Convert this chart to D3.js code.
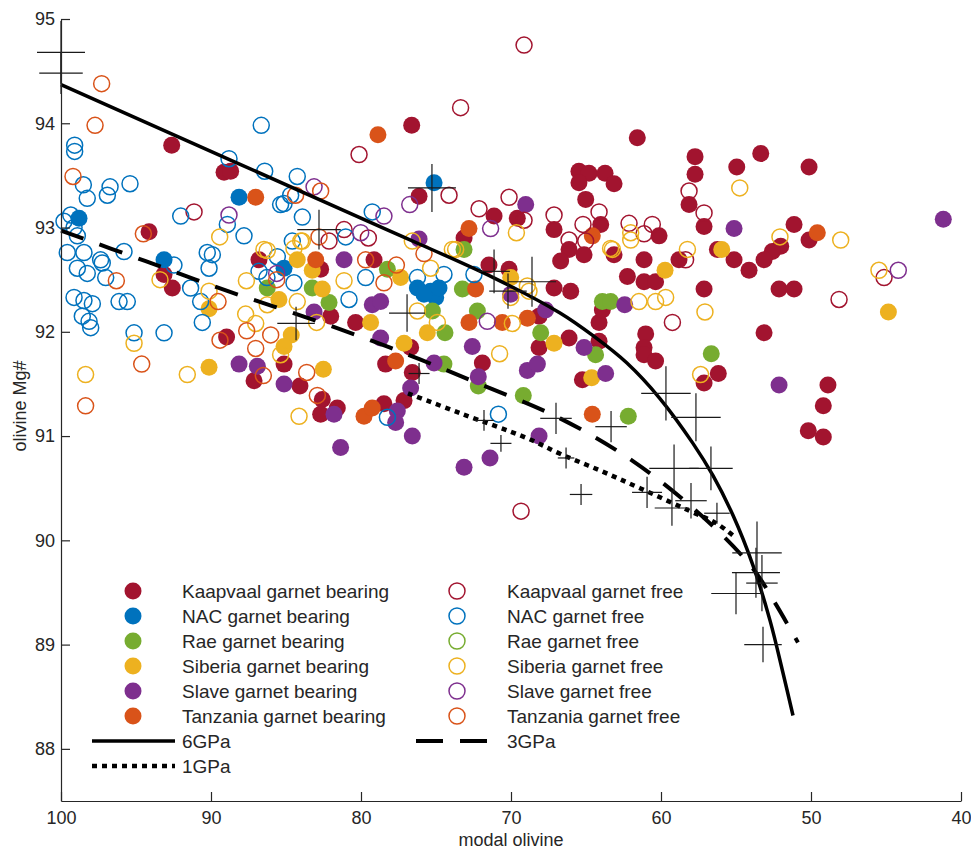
<!DOCTYPE html>
<html>
<head>
<meta charset="utf-8">
<script src="https://cdn.jsdelivr.net/npm/d3@7/dist/d3.min.js"></script>
<style>
body { margin: 0; background: #fff; }
text { font-family: "Liberation Sans", Arial, Helvetica, sans-serif; fill: #262626; }
</style>
</head>
<body>
<div id="chart"></div>
<script>
// axis ticks
var xTicks = [100, 90, 80, 70, 60, 50, 40];
var yTicks = [88, 89, 90, 91, 92, 93, 94, 95];

// legend text
var bearingLabels = ["Kaapvaal garnet bearing", "NAC garnet bearing", "Rae garnet bearing",
    "Siberia garnet bearing", "Slave garnet bearing", "Tanzania garnet bearing"];
var freeLabels = ["Kaapvaal garnet free", "NAC garnet free", "Rae garnet free",
    "Siberia garnet free", "Slave garnet free", "Tanzania garnet free"];
var lineLabels = ["6GPa", "1GPa", "3GPa"];

// samples: [modal olivine, olivine Mg#]
var kaapvaalBearing = [[92.62,93.79],[89.13,93.53],[88.69,93.54],[94.13,92.96],[86.8,92.69],[82.69,92.6],[93.13,92.55],[92.58,92.42],
    [88.96,91.95],[87.13,91.53],[85.13,91.69],[84.07,91.48],[82.58,91.35],[82.69,91.21],[81.58,91.27],[82.02,92.15],[80.36,92.09],
    [76.62,93.98],[61.58,93.86],[76.13,93.3],[65.47,93.54],[64.8,93.52],[63.73,93.52],[63.13,93.42],[65.47,93.43],[65.02,93.27],
    [71.13,93.11],[69.58,93.09],[67.13,92.98],[73.13,92.9],[64.02,93.03],[66.13,92.79],[66.69,92.68],[65.13,92.74],[63.13,92.74],
    [60.13,92.92],[61.13,92.69],[62.24,92.53],[61.13,92.48],[60.36,92.48],[58.8,92.69],[67.13,92.42],[66.02,92.39],[71.47,92.64],
    [70.13,92.6],[79.13,92.69],[57.73,93.68],[57.73,93.51],[54.95,93.58],[53.35,93.71],[50.13,93.58],[58.13,93.22],[57.13,93.01],
    [51.13,93.03],[50.13,92.88],[52.02,92.82],[52.58,92.77],[53.13,92.69],[55.13,92.69],[54.13,92.59],[56.24,92.79],[57.13,92.41],
    [52.13,92.41],[51.13,92.41],[76.69,91.85],[78.36,91.69],[76.58,91.61],[77.13,91.34],[78.47,91.31],[71.91,91.7],[68.13,92.15],
    [68.13,91.85],[66.13,91.94],[64.13,91.91],[64.13,92.09],[63.91,92.21],[61.02,91.98],[61.13,91.85],[61.13,91.78],[60.36,91.72],
    [65.24,91.54],[53.13,91.99],[56.18,91.6],[57.13,91.51],[48.87,91.49],[49.18,91.29],[50.18,91.05],[49.18,90.99]];
var nacBearing = [[88.13,93.29],[98.8,93.09],[93.13,92.69],[85.13,92.61],[75.13,93.43],[76.24,92.42],[75.36,92.39],[75.02,92.33],
    [75.8,92.36],[74.8,92.42]];
var raeBearing = [[86.25,92.42],[83.25,92.42],[82.13,92.28],[73.13,92.79],[78.24,92.6],[73.24,92.41],[75.24,92.2],[74.4,91.99],
    [74.47,91.69],[72.18,91.48],[69.18,91.39],[72.24,92.2],[68.02,91.99],[64.36,91.78],[63.91,92.29],[63.36,92.29],[62.18,91.19],
    [56.65,91.79]];
var siberiaBearing = [[84.25,92.69],[83.25,92.59],[82.58,92.41],[90.13,91.66],[90.13,92.22],[85.47,92.31],[84.65,91.97],[85.13,91.86],
    [82.51,91.64],[79.36,92.09],[77.36,92.52],[70.02,92.52],[59.73,92.59],[55.95,92.79],[75.58,91.99],[77.13,91.89],[67.13,91.89],
    [64.62,91.56],[44.84,92.19]];
var slaveBearing = [[81.13,92.69],[88.13,91.69],[86.91,91.67],[85.13,91.5],[81.8,91.21],[81.36,90.89],[83.13,92.19],[79.25,92.26],
    [69.02,93.22],[76.13,92.89],[55.13,92.99],[41.18,93.08],[78.69,92.29],[78.69,91.94],[75.13,91.7],[76.69,91.46],[77.58,91.24],
    [77.69,91.13],[76.58,91.0],[68.13,91.0],[72.58,91.86],[72.18,91.57],[68.91,91.63],[68.24,91.69],[70.02,92.36],[67.69,92.21],
    [65.13,91.85],[62.42,92.26],[63.69,91.6],[52.13,91.49],[73.13,90.7],[71.4,90.79]];
var tanzaniaBearing = [[78.87,93.89],[87.02,93.29],[83.02,92.69],[79.8,91.19],[79.25,91.27],[72.8,92.99],[64.58,92.92],[72.36,92.41],
    [49.58,92.95],[77.69,91.72],[72.8,92.09],[70.58,92.09],[68.91,92.13],[64.58,91.21]];

var kaapvaalFree = [[80.13,93.7],[91.13,93.15],[82.13,92.87],[81.13,92.98],[69.13,94.75],[73.36,94.15],[74.13,93.31],[70.13,93.29],
    [64.13,93.15],[72.13,93.18],[69.13,93.07],[67.13,93.12],[66.13,92.88],[79.51,92.9],[65.2,93.03],[65.02,92.87],[62.13,93.04],
    [61.13,92.94],[60.58,93.03],[58.13,93.35],[57.13,93.14],[58.36,92.69],[45.13,92.52],[59.24,92.09],[48.13,92.31],[69.33,90.28]];
var nacFree = [[99.09,93.79],[99.09,93.73],[98.51,93.41],[98.25,93.28],[96.73,93.39],[96.91,93.31],[95.4,93.42],[86.65,93.98],
    [88.8,93.66],[86.42,93.54],[84.25,93.49],[84.69,93.31],[85.13,93.23],[85.36,93.22],[83.91,93.1],[79.25,93.15],[92.02,93.11],
    [88.91,93.03],[87.8,92.92],[99.35,93.12],[99.8,93.06],[99.13,93.0],[98.91,92.92],[84.58,92.87],[81.02,92.91],[79.69,92.52],
    [99.58,92.76],[98.47,92.76],[98.91,92.61],[98.25,92.56],[97.36,92.69],[97.25,92.66],[95.8,92.77],[92.47,92.64],[90.25,92.76],
    [89.91,92.74],[90.13,92.61],[85.58,92.72],[86.8,92.58],[84.47,92.47],[91.36,92.42],[86.27,92.52],[97.02,92.52],[99.13,92.33],
    [98.47,92.3],[97.91,92.27],[96.13,92.29],[95.58,92.29],[98.58,92.15],[98.13,92.1],[98.02,92.04],[95.13,91.99],[93.13,91.99],
    [90.69,92.29],[90.58,92.09],[80.8,92.31],[74.47,92.55],[76.24,92.52],[72.47,92.55],[78.24,91.18],[70.84,91.21]];
var raeFree = [];
var siberiaFree = [[89.42,92.91],[84.02,92.87],[93.4,92.5],[87.64,92.49],[86.47,92.79],[86.25,92.78],[84.47,92.8],[83.91,92.87],
    [81.13,92.49],[95.13,91.89],[98.36,91.59],[91.58,91.59],[90.13,92.39],[87.69,92.17],[87.02,92.08],[86.25,92.26],[84.25,92.29],
    [85.36,91.78],[84.13,91.19],[82.96,92.09],[69.64,92.95],[76.58,92.87],[73.91,92.79],[73.69,92.79],[63.36,92.8],[63.24,92.79],
    [62.02,92.95],[62.02,92.88],[75.36,92.61],[68.91,92.44],[54.75,93.38],[52.07,92.91],[48.02,92.88],[58.24,92.79],[45.47,92.59],
    [76.24,92.2],[74.91,92.09],[70.76,91.79],[69.91,92.08],[70.02,92.33],[68.8,92.39],[61.47,92.29],[60.36,92.29],[59.69,92.33],
    [57.07,92.19],[57.36,91.59]];
var slaveFree = [[83.13,93.39],[88.8,93.12],[85.62,92.56],[76.75,93.22],[71.36,92.99],[78.47,93.11],[71.58,92.1],[44.18,92.59],
    [80.02,92.95]];
var tanzaniaFree = [[97.29,94.38],[97.73,93.98],[99.2,93.49],[94.51,92.94],[84.36,93.31],[82.69,93.35],[82.8,92.91],[79.69,92.69],
    [96.31,92.49],[85.62,92.5],[94.62,91.69],[98.36,91.29],[89.53,92.29],[89.4,91.92],[87.62,92.01],[86.02,91.97],[87.02,91.84],
    [86.51,91.58],[83.62,91.61],[82.91,91.39],[75.8,92.75],[77.64,92.64],[78.47,92.47]];

// model curves
var sixGpaX = [100, 79.07, 71.18, 66.73, 64.51, 62.27, 60.07, 57.87, 56.53, 55.2, 53.87, 52.73, 51.87, 51.2];
var sixGpaY = [94.37, 93.03, 92.52, 92.18, 91.96, 91.70, 91.36, 90.93, 90.62, 90.24, 89.76, 89.23, 88.73, 88.32];
var threeGpaX = [100, 94.4, 88.87, 83.27, 77.73, 72.27, 66.73, 61.87, 57.4, 53.93, 52.4, 50.87];
var threeGpaY = [92.97, 92.68, 92.39, 92.12, 91.83, 91.51, 91.17, 90.76, 90.25, 89.74, 89.4, 89.02];
var oneGpaX = [76.87, 73.4, 68.93, 66.73, 64.07, 61.4, 58.07, 56.27, 55.07];
var oneGpaY = [91.41, 91.22, 90.98, 90.83, 90.67, 90.5, 90.28, 90.16, 90.03];

// crosses (centre and half extents)
var crossX = [100, 100, 75.27, 71.13, 70.2, 68.6, 76.93, 84.33, 82.8, 76.13, 71.8, 70.67, 67.0, 63.33, 59.67, 57.67, 66.33, 65.33,
    59.13, 56.67, 60.93, 59.27, 56.27, 58.0, 53.6, 53.67, 55.0, 53.27, 53.2];
var crossY = [94.68, 94.48, 93.38, 92.58, 92.39, 92.48, 92.18, 92.08, 92.98, 91.6, 91.15, 90.93, 91.17, 91.09, 91.41, 91.18, 90.79, 90.44,
    90.69, 90.69, 90.46, 90.31, 90.26, 90.38, 89.88, 89.69, 89.49, 89.59, 89.0];
var crossXErr = [1.6, 1.45, 1.6, 1.05, 1.25, 1.6, 1.2, 1.25, 1.45, 0.7, 0.65, 0.7, 1.05, 1.05, 1.65, 1.65, 0.55, 0.75,
    1.65, 1.45, 1.0, 1.15, 0.85, 1.05, 1.65, 1.6, 1.65, 1.05, 1.25];
var crossYErr = [0.3, 0.2, 0.23, 0.21, 0.17, 0.24, 0.18, 0.16, 0.19, 0.1, 0.1, 0.08, 0.15, 0.15, 0.26, 0.23, 0.1, 0.1,
    0.23, 0.21, 0.15, 0.17, 0.1, 0.17, 0.3, 0.24, 0.2, 0.27, 0.17];

var colors = ["#A2142F", "#0072BD", "#77AC30", "#EDB120", "#7E2F8E", "#D95319"];
var bearingSets = [kaapvaalBearing, nacBearing, raeBearing, siberiaBearing, slaveBearing, tanzaniaBearing];
var freeSets = [kaapvaalFree, nacFree, raeFree, siberiaFree, slaveFree, tanzaniaFree];

var width = 971;
var height = 850;

var svg = d3.select("#chart")
    .append("svg")
    .attr("width", width)
    .attr("height", height);

var x = d3.scaleLinear().domain([100, 40]).range([61, 961]);
var y = d3.scaleLinear().domain([87.5, 95]).range([801, 19]);

// filled markers
bearingSets.forEach(function (set, i) {
    svg.append("g").selectAll("circle")
        .data(set)
        .enter().append("circle")
        .attr("cx", function (d) { return x(d[0]); })
        .attr("cy", function (d) { return y(d[1]); })
        .attr("r", 8.5)
        .attr("fill", colors[i]);
});

// open markers
freeSets.forEach(function (set, i) {
    svg.append("g").selectAll("circle")
        .data(set)
        .enter().append("circle")
        .attr("cx", function (d) { return x(d[0]); })
        .attr("cy", function (d) { return y(d[1]); })
        .attr("r", 8)
        .attr("fill", "none")
        .attr("stroke", colors[i])
        .attr("stroke-width", 1.5);
});

var line = d3.line()
    .x(function (d) { return x(d[0]); })
    .y(function (d) { return y(d[1]); })
    .curve(d3.curveCatmullRom.alpha(0.5));

function pairs(xs, ys) {
    return xs.map(function (v, i) { return [v, ys[i]]; });
}

svg.append("path")
    .attr("d", line(pairs(sixGpaX, sixGpaY)))
    .attr("fill", "none")
    .attr("stroke", "#000")
    .attr("stroke-width", 3.5);

svg.append("path")
    .attr("d", line(pairs(threeGpaX, threeGpaY)))
    .attr("fill", "none")
    .attr("stroke", "#000")
    .attr("stroke-width", 4)
    .attr("stroke-dasharray", "24,17");

svg.append("path")
    .attr("d", line(pairs(oneGpaX, oneGpaY)))
    .attr("fill", "none")
    .attr("stroke", "#000")
    .attr("stroke-width", 4.5)
    .attr("stroke-dasharray", "5,5");

// crosses
var crosses = svg.append("g").attr("stroke", "#1a1a1a").attr("stroke-width", 1.2);
crossX.forEach(function (cx, i) {
    crosses.append("line")
        .attr("x1", x(cx + crossXErr[i])).attr("x2", x(cx - crossXErr[i]))
        .attr("y1", y(crossY[i])).attr("y2", y(crossY[i]));
    crosses.append("line")
        .attr("x1", x(cx)).attr("x2", x(cx))
        .attr("y1", y(crossY[i] + crossYErr[i])).attr("y2", y(crossY[i] - crossYErr[i]));
});

// axes
var xAxis = svg.append("g")
    .attr("transform", "translate(0," + 801 + ")")
    .call(d3.axisBottom(x).tickValues(xTicks).tickSizeInner(-9).tickSizeOuter(0).tickPadding(10));
var yAxis = svg.append("g")
    .attr("transform", "translate(" + 61 + ",0)")
    .call(d3.axisLeft(y).tickValues(yTicks).tickSizeInner(-9).tickSizeOuter(0).tickPadding(6));

[xAxis, yAxis].forEach(function (a) {
    a.selectAll("path").attr("stroke", "#262626").attr("stroke-width", 1.2);
    a.selectAll("line").attr("stroke", "#262626").attr("stroke-width", 1.2);
    a.selectAll("text").attr("font-size", 18).attr("fill", "#262626")
        .style("font-family", "'Liberation Sans', Arial, sans-serif");
});

svg.append("text")
    .attr("x", 511).attr("y", 840)
    .attr("text-anchor", "middle")
    .attr("dominant-baseline", "central")
    .attr("font-size", 18)
    .text("modal olivine");

svg.append("text")
    .attr("transform", "translate(20,406) rotate(-90)")
    .attr("text-anchor", "middle")
    .attr("dominant-baseline", "central")
    .attr("font-size", 18)
    .text("olivine Mg#");

// legend
var legend = svg.append("g");
var rowY = function (i) { return 591 + i * 25; };

bearingLabels.forEach(function (label, i) {
    legend.append("circle").attr("cx", 133).attr("cy", rowY(i)).attr("r", 8.5).attr("fill", colors[i]);
    legend.append("text").attr("x", 182).attr("y", rowY(i)).attr("dominant-baseline", "central")
        .attr("font-size", 19).attr("fill", "#000").text(label);
});
freeLabels.forEach(function (label, i) {
    legend.append("circle").attr("cx", 457).attr("cy", rowY(i)).attr("r", 8)
        .attr("fill", "none").attr("stroke", colors[i]).attr("stroke-width", 1.5);
    legend.append("text").attr("x", 507).attr("y", rowY(i)).attr("dominant-baseline", "central")
        .attr("font-size", 19).attr("fill", "#000").text(label);
});

var lineSamples = [
    { x0: 92, x1: 175, row: 6, width: 3.5, dash: null, tx: 182 },
    { x0: 92, x1: 175, row: 7, width: 4.5, dash: "5,5", tx: 182 },
    { x0: 416, x1: 499, row: 6, width: 4, dash: "27,17", tx: 507 }
];
lineSamples.forEach(function (s, i) {
    legend.append("line")
        .attr("x1", s.x0).attr("x2", s.x1)
        .attr("y1", rowY(s.row)).attr("y2", rowY(s.row))
        .attr("stroke", "#000").attr("stroke-width", s.width)
        .attr("stroke-dasharray", s.dash);
    legend.append("text").attr("x", s.tx).attr("y", rowY(s.row)).attr("dominant-baseline", "central")
        .attr("font-size", 19).attr("fill", "#000").text(lineLabels[i]);
});
</script>
</body>
</html>
